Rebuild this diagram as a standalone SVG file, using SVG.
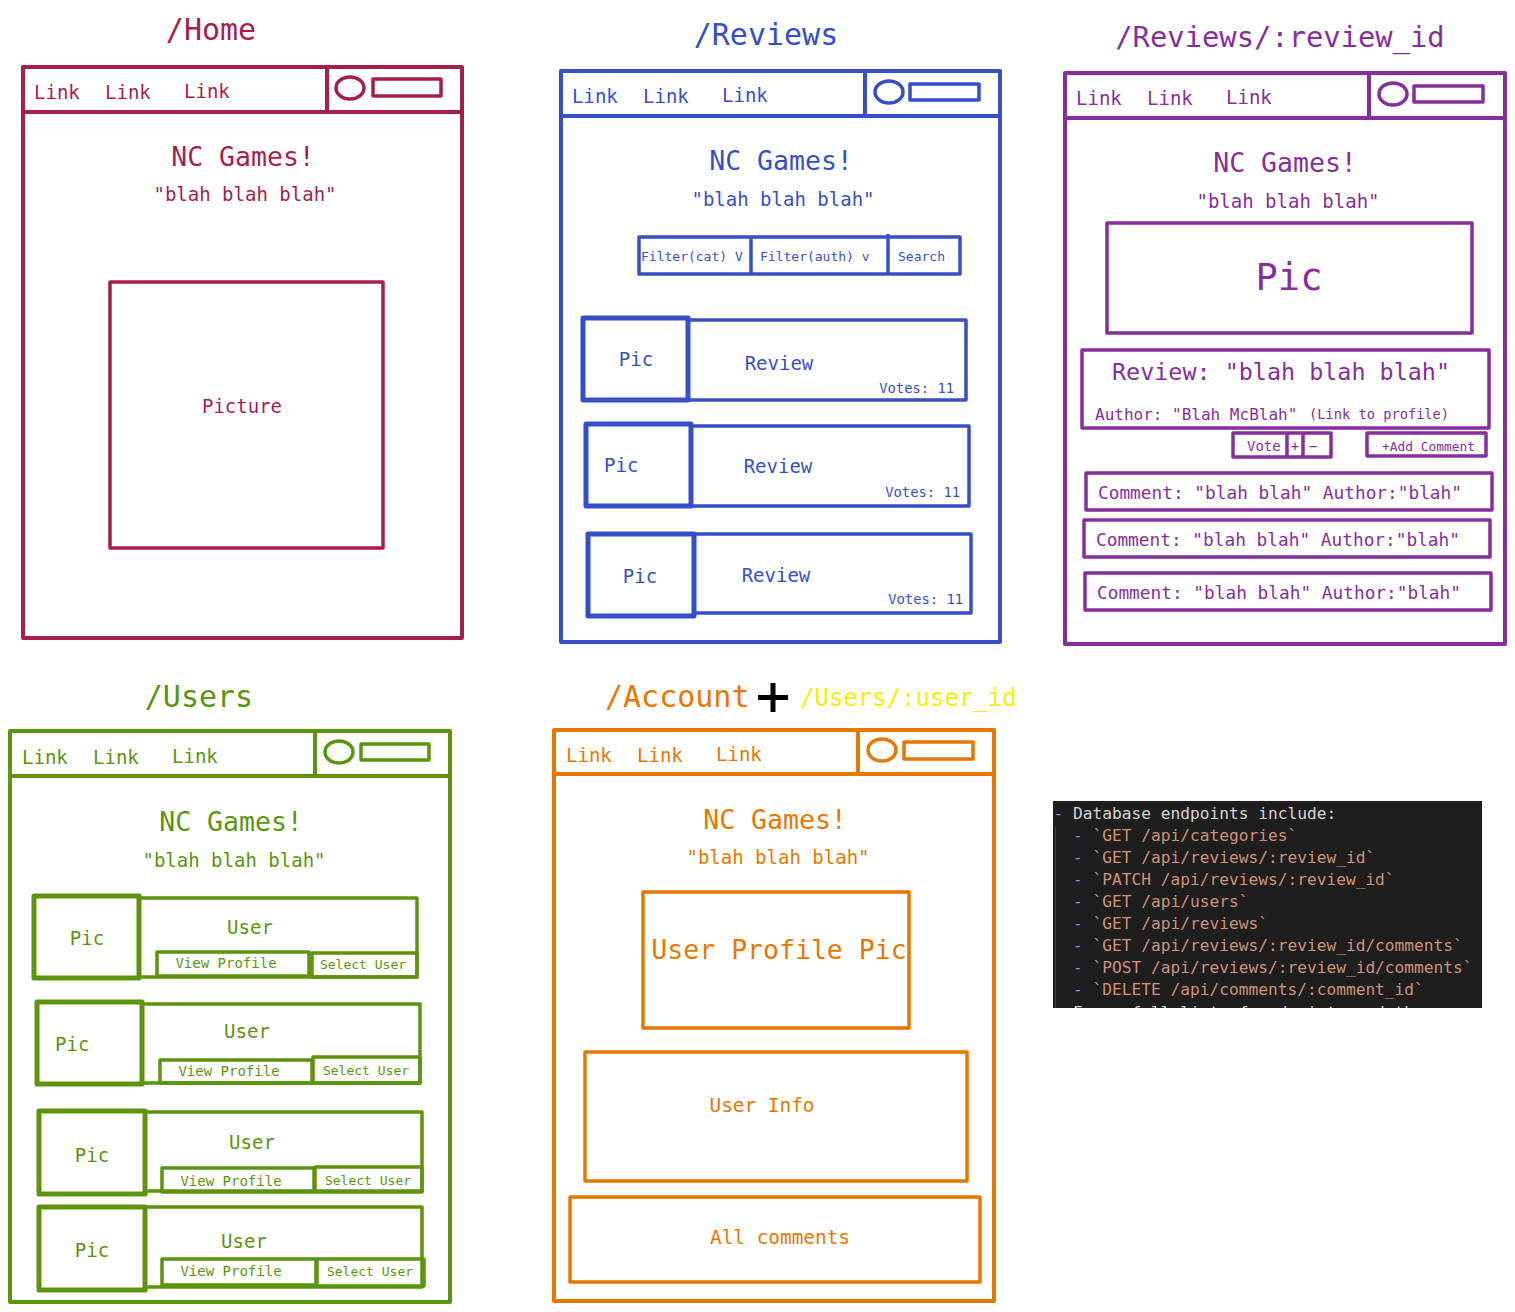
<svg xmlns="http://www.w3.org/2000/svg" width="1515" height="1312" viewBox="0 0 1515 1312">
<defs>
<style>
text{font-family:"DejaVu Sans Mono","Liberation Mono",monospace;}
.f{fill:none;stroke-width:4;stroke-linejoin:round;}
.t{stroke-width:3.5;fill:none;stroke-linejoin:round;}
.k{stroke-width:5;fill:none;stroke-linejoin:round;}
.c{text-anchor:middle;}
.home{stroke:#a61e4d;} .homeT{fill:#a61e4d;}
.rev{stroke:#364fc7;} .revT{fill:#364fc7;}
.rid{stroke:#862e9c;} .ridT{fill:#862e9c;}
.usr{stroke:#5c940d;} .usrT{fill:#5c940d;}
.acc{stroke:#e67700;} .accT{fill:#e67700;}
.ttl{font-size:30px;}
.lnk{font-size:19px;}
.nc{font-size:26.5px;}
.bl{font-size:19px;}
.cm{font-size:17.8px;}
</style>
<clipPath id="codeclip"><rect x="1053" y="801" width="429" height="207"/></clipPath>
</defs>
<rect x="0" y="0" width="1515" height="1312" fill="#ffffff"/>

<g id="home">
<text class="homeT ttl c" x="211" y="40">/Home</text>
<rect class="f home" x="23" y="67" width="439" height="571"/>
<line class="f home" x1="23" y1="112" x2="462" y2="112"/>
<line class="f home" x1="327" y1="65" x2="327" y2="112"/>
<ellipse class="t home" cx="350" cy="88" rx="14" ry="11"/>
<rect class="t home" x="373" y="79" width="68" height="17"/>
<text class="homeT lnk" x="34" y="99">Link</text>
<text class="homeT lnk" x="105" y="99">Link</text>
<text class="homeT lnk" x="184" y="98">Link</text>
<text class="homeT nc c" x="243" y="166">NC Games!</text>
<text class="homeT bl c" x="245" y="201">"blah blah blah"</text>
<rect class="t home" x="110" y="282" width="273" height="266"/>
<text class="homeT bl c" x="242" y="413">Picture</text>
</g>

<g id="reviews">
<text class="revT ttl c" x="766" y="45">/Reviews</text>
<rect class="f rev" x="561" y="71" width="439" height="571"/>
<line class="f rev" x1="561" y1="116" x2="1000" y2="116"/>
<line class="f rev" x1="865" y1="69" x2="865" y2="116"/>
<ellipse class="t rev" cx="889" cy="92" rx="14" ry="11"/>
<rect class="t rev" x="910" y="84" width="69" height="16"/>
<text class="revT lnk" x="572" y="103">Link</text>
<text class="revT lnk" x="643" y="103">Link</text>
<text class="revT lnk" x="722" y="102">Link</text>
<text class="revT nc c" x="781" y="170">NC Games!</text>
<text class="revT bl c" x="783" y="206">"blah blah blah"</text>
<rect class="t rev" x="639" y="237" width="321" height="37"/>
<line class="t rev" x1="751" y1="236" x2="751" y2="274"/>
<line class="t rev" x1="888" y1="234" x2="888" y2="274"/>
<text class="revT" font-size="13" x="641" y="261">Filter(cat) V</text>
<text class="revT" font-size="13" x="760" y="261">Filter(auth) v</text>
<text class="revT" font-size="13" x="898" y="261">Search</text>
<rect class="t rev" x="688" y="320" width="278" height="80"/>
<rect class="k rev" x="583" y="318" width="105" height="82"/>
<text class="revT bl c" x="636" y="366">Pic</text>
<text class="revT bl c" x="779" y="370">Review</text>
<text class="revT" font-size="13.8" x="954" y="393" text-anchor="end">Votes: 11</text>
<rect class="t rev" x="691" y="426" width="278" height="80"/>
<rect class="k rev" x="586" y="424" width="105" height="82"/>
<text class="revT bl" x="604" y="472">Pic</text>
<text class="revT bl c" x="778" y="473">Review</text>
<text class="revT" font-size="13.8" x="960" y="497" text-anchor="end">Votes: 11</text>
<rect class="t rev" x="694" y="534" width="277" height="79"/>
<rect class="k rev" x="588" y="534" width="106" height="82"/>
<text class="revT bl c" x="640" y="583">Pic</text>
<text class="revT bl c" x="776" y="582">Review</text>
<text class="revT" font-size="13.8" x="963" y="604" text-anchor="end">Votes: 11</text>
</g>

<g id="review_id">
<text class="ridT c" font-size="28.8" x="1280" y="47">/Reviews/:review_id</text>
<rect class="f rid" x="1065" y="73" width="440" height="571"/>
<line class="f rid" x1="1065" y1="118" x2="1505" y2="118"/>
<line class="f rid" x1="1369" y1="71" x2="1369" y2="118"/>
<ellipse class="t rid" cx="1393" cy="94" rx="14" ry="11"/>
<rect class="t rid" x="1414" y="86" width="69" height="16"/>
<text class="ridT lnk" x="1076" y="105">Link</text>
<text class="ridT lnk" x="1147" y="105">Link</text>
<text class="ridT lnk" x="1226" y="104">Link</text>
<text class="ridT nc c" x="1285" y="172">NC Games!</text>
<text class="ridT bl c" x="1288" y="208">"blah blah blah"</text>
<rect class="t rid" x="1107" y="223" width="365" height="110"/>
<text class="ridT c" font-size="37" x="1289" y="290">Pic</text>
<rect class="t rid" x="1082" y="350" width="407" height="78"/>
<text class="ridT" font-size="23.4" x="1112" y="380">Review: "blah blah blah"</text>
<text class="ridT" font-size="16" x="1095" y="420">Author: "Blah McBlah"</text>
<text class="ridT" font-size="13.7" x="1309" y="419">(Link to profile)</text>
<rect class="t rid" x="1233" y="433" width="98" height="24"/>
<line class="t rid" x1="1287" y1="433" x2="1287" y2="457"/>
<line class="t rid" x1="1303" y1="433" x2="1303" y2="457"/>
<text class="ridT" font-size="14" x="1247" y="451">Vote</text>
<text class="ridT c" font-size="14" x="1295" y="451">+</text>
<text class="ridT c" font-size="14" x="1313" y="451">−</text>
<rect class="t rid" x="1367" y="433" width="119" height="23"/>
<text class="ridT" font-size="12.9" x="1382" y="451">+Add Comment</text>
<rect class="t rid" x="1086" y="473" width="406" height="37"/>
<text class="ridT cm" x="1098" y="499">Comment: "blah blah" Author:"blah"</text>
<rect class="t rid" x="1084" y="520" width="406" height="37"/>
<text class="ridT cm" x="1096" y="546">Comment: "blah blah" Author:"blah"</text>
<rect class="t rid" x="1085" y="573" width="406" height="37"/>
<text class="ridT cm" x="1097" y="599">Comment: "blah blah" Author:"blah"</text>
</g>

<g id="users">
<text class="usrT ttl c" x="199" y="707">/Users</text>
<rect class="f usr" x="10" y="731" width="440" height="571"/>
<line class="f usr" x1="10" y1="776" x2="450" y2="776"/>
<line class="f usr" x1="315" y1="729" x2="315" y2="776"/>
<ellipse class="t usr" cx="339" cy="752" rx="14" ry="11"/>
<rect class="t usr" x="361" y="744" width="68" height="16"/>
<text class="usrT lnk" x="22" y="764">Link</text>
<text class="usrT lnk" x="93" y="764">Link</text>
<text class="usrT lnk" x="172" y="763">Link</text>
<text class="usrT nc c" x="231" y="831">NC Games!</text>
<text class="usrT bl c" x="234" y="867">"blah blah blah"</text>

<rect class="t usr" x="139" y="898" width="278" height="79"/>
<rect class="k usr" x="34" y="896" width="105" height="82"/>
<text class="usrT bl c" x="87" y="945">Pic</text>
<text class="usrT bl c" x="250" y="934">User</text>
<rect class="t usr" x="157" y="952" width="152" height="24"/>
<text class="usrT c" font-size="14" x="226" y="968">View Profile</text>
<rect class="t usr" x="312" y="953" width="105" height="24"/>
<text class="usrT c" font-size="13" x="363" y="969">Select User</text>

<rect class="t usr" x="142" y="1004" width="278" height="79"/>
<rect class="k usr" x="37" y="1002" width="105" height="82"/>
<text class="usrT bl" x="55" y="1051">Pic</text>
<text class="usrT bl c" x="247" y="1038">User</text>
<rect class="t usr" x="160" y="1060" width="152" height="23"/>
<text class="usrT c" font-size="14" x="229" y="1076">View Profile</text>
<rect class="t usr" x="313" y="1057" width="107" height="26"/>
<text class="usrT c" font-size="13" x="366" y="1075">Select User</text>

<rect class="t usr" x="145" y="1112" width="277" height="79"/>
<rect class="k usr" x="39" y="1111" width="106" height="83"/>
<text class="usrT bl c" x="92" y="1162">Pic</text>
<text class="usrT bl c" x="252" y="1149">User</text>
<rect class="t usr" x="162" y="1168" width="152" height="24"/>
<text class="usrT c" font-size="14" x="231" y="1186">View Profile</text>
<rect class="t usr" x="315" y="1167" width="107" height="25"/>
<text class="usrT c" font-size="13" x="368" y="1185">Select User</text>

<rect class="t usr" x="145" y="1207" width="277" height="80"/>
<rect class="k usr" x="39" y="1207" width="106" height="83"/>
<text class="usrT bl c" x="92" y="1257">Pic</text>
<text class="usrT bl c" x="244" y="1248">User</text>
<rect class="t usr" x="162" y="1259" width="154" height="26"/>
<text class="usrT c" font-size="14" x="231" y="1276">View Profile</text>
<rect class="t usr" x="317" y="1259" width="107" height="27"/>
<text class="usrT c" font-size="13" x="370" y="1276">Select User</text>
</g>

<g id="account">
<text class="accT ttl" x="605" y="707">/Account</text>
<path d="M773 683 V712 M758 697.5 H788" stroke="#000000" stroke-width="5" fill="none"/>
<text font-size="24" fill="#f5f000" x="800" y="706">/Users/:user_id</text>
<rect class="f acc" x="554" y="730" width="440" height="571"/>
<line class="f acc" x1="554" y1="774" x2="994" y2="774"/>
<line class="f acc" x1="858" y1="728" x2="858" y2="774"/>
<ellipse class="t acc" cx="882" cy="750" rx="14" ry="11"/>
<rect class="t acc" x="904" y="742" width="69" height="17"/>
<text class="accT lnk" x="566" y="762">Link</text>
<text class="accT lnk" x="637" y="762">Link</text>
<text class="accT lnk" x="716" y="761">Link</text>
<text class="accT nc c" x="775" y="829">NC Games!</text>
<text class="accT bl c" x="778" y="864">"blah blah blah"</text>
<rect class="t acc" x="643" y="892" width="266" height="136"/>
<text class="accT nc c" x="779" y="959">User Profile Pic</text>
<rect class="t acc" x="585" y="1052" width="382" height="129"/>
<text class="accT c" font-size="19.4" x="762" y="1112">User Info</text>
<rect class="t acc" x="570" y="1197" width="410" height="85"/>
<text class="accT c" font-size="19.4" x="780" y="1244">All comments</text>
</g>

<g id="endpoints">
<rect x="1053" y="801" width="429" height="207" fill="#1e1e1e"/>
<line x1="1055.5" y1="827" x2="1055.5" y2="1008" stroke="#404040" stroke-width="1"/>
<g clip-path="url(#codeclip)">
<text font-size="16.2" x="1053.5" y="819"><tspan fill="#6796e6">-</tspan><tspan fill="#d4d4d4"> Database endpoints include:</tspan></text>
<text font-size="16.2" x="1053.5" y="841" xml:space="preserve"><tspan fill="#6796e6">  -</tspan><tspan fill="#ce9178"> `GET /api/categories`</tspan></text>
<text font-size="16.2" x="1053.5" y="863" xml:space="preserve"><tspan fill="#6796e6">  -</tspan><tspan fill="#ce9178"> `GET /api/reviews/:review_id`</tspan></text>
<text font-size="16.2" x="1053.5" y="885" xml:space="preserve"><tspan fill="#6796e6">  -</tspan><tspan fill="#ce9178"> `PATCH /api/reviews/:review_id`</tspan></text>
<text font-size="16.2" x="1053.5" y="907" xml:space="preserve"><tspan fill="#6796e6">  -</tspan><tspan fill="#ce9178"> `GET /api/users`</tspan></text>
<text font-size="16.2" x="1053.5" y="929" xml:space="preserve"><tspan fill="#6796e6">  -</tspan><tspan fill="#ce9178"> `GET /api/reviews`</tspan></text>
<text font-size="16.2" x="1053.5" y="951" xml:space="preserve"><tspan fill="#6796e6">  -</tspan><tspan fill="#ce9178"> `GET /api/reviews/:review_id/comments`</tspan></text>
<text font-size="16.2" x="1053.5" y="973" xml:space="preserve"><tspan fill="#6796e6">  -</tspan><tspan fill="#ce9178"> `POST /api/reviews/:review_id/comments`</tspan></text>
<text font-size="16.2" x="1053.5" y="995" xml:space="preserve"><tspan fill="#6796e6">  -</tspan><tspan fill="#ce9178"> `DELETE /api/comments/:comment_id`</tspan></text>
<text font-size="16.2" x="1053.5" y="1018" xml:space="preserve" fill="#d4d4d4">  For a full list of endpoints and th</text>
</g>
</g>

<g id="connectors"></g>
</svg>
